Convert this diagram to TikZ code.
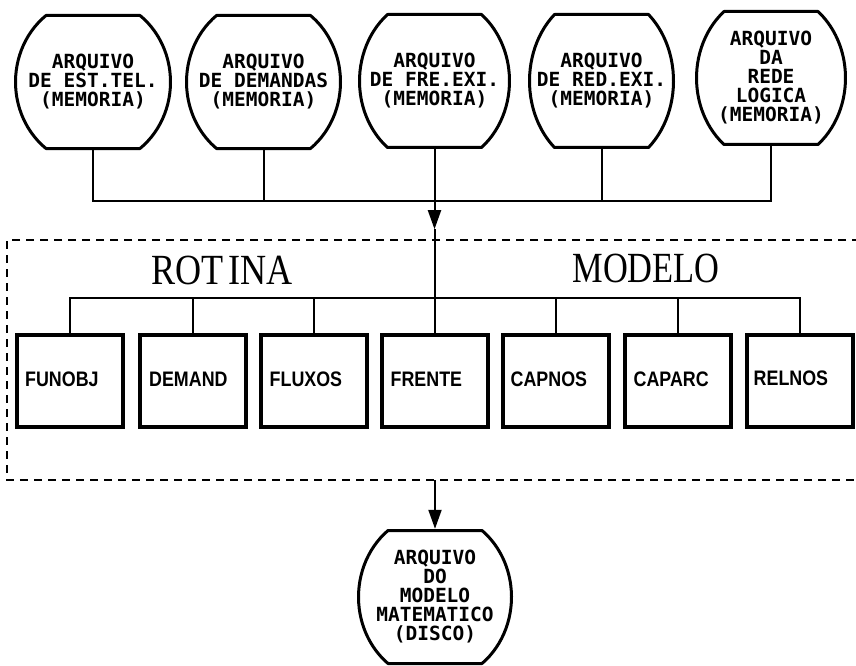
\documentclass[tikz,border=0pt]{standalone}
\usepackage{fontspec}
\setmainfont{Liberation Serif}
\newfontfamily\filefont{DejaVu Sans Mono}
\newfontfamily\routinefont{Liberation Sans}
\usetikzlibrary{arrows.meta}

\tikzset{
  filenode/.style={minimum width=150pt, minimum height=136pt, inner sep=0pt,
    align=center, font=\filefont\bfseries\fontsize{19.5}{19}\selectfont},
  outline/.style={line width=3pt, line join=round},
  wire/.style={line width=2pt},
  flow/.style={wire, -{Triangle[length=19pt,width=13pt]}},
  routine/.style={draw, line width=4pt, minimum width=106pt, minimum height=92pt,
    inner sep=0pt},
  routinelabel/.style={anchor=west, inner sep=0pt,
    font=\routinefont\bfseries\fontsize{21}{21}\selectfont},
  biglabel/.style={inner sep=0pt, font=\fontsize{43}{43}\selectfont},
  frame/.style={line width=2pt, dash pattern=on 8pt off 6pt},
}

\begin{document}
\begin{tikzpicture}[x=1pt, y=1pt]
\useasboundingbox (0,0) rectangle (856,-666);

% data files held in memory
\node[filenode] (f1) at (93,-82)    {ARQUIVO\\DE EST.TEL.\\(MEMORIA)};
\node[filenode] (f2) at (263.5,-82) {ARQUIVO\\DE DEMANDAS\\(MEMORIA)};
\node[filenode] (f3) at (434.5,-81) {ARQUIVO\\DE FRE.EXI.\\(MEMORIA)};
\node[filenode] (f4) at (601.5,-81) {ARQUIVO\\DE RED.EXI.\\(MEMORIA)};
\node[filenode] (f5) at (771,-78)   {ARQUIVO\\DA\\REDE\\LOGICA\\(MEMORIA)};
% output file on disk
\node[filenode] (disk) at (435,-597) {ARQUIVO\\DO\\MODELO\\MATEMATICO\\(DISCO)};

% barrel outlines: an ellipse cut flat at top and bottom
\foreach \n/\a in {f1/77.5, f2/77, f3/75, f4/72, f5/74.5, disk/76.5} {
  \pgfmathsetmacro\t{acos(47/\a)}
  \pgfmathsetmacro\b{66.5/sin(\t)}
  \draw[outline]
    ([shift={(180-\t:\a pt and \b pt)}]\n.center)
      arc[start angle=180-\t, end angle=180+\t, x radius=\a pt, y radius=\b pt]
    -- ([shift={(-\t:\a pt and \b pt)}]\n.center)
      arc[start angle=-\t, end angle=\t, x radius=\a pt, y radius=\b pt]
    -- cycle;
}

% routines of the model
\node[routine] (b1) at (70,-381)    {};
\node[routine] (b2) at (193,-381)   {};
\node[routine] (b3) at (313.5,-381) {};
\node[routine] (b4) at (434.5,-381) {};
\node[routine] (b5) at (555.5,-381) {};
\node[routine] (b6) at (677.5,-381) {};
\node[routine] (b7) at (799.5,-381) {};

\node[routinelabel] (l1) at ([xshift=10pt,yshift=2pt]b1.west) {\scalebox{0.85}[1]{FUNOBJ}};
\node[routinelabel] (l2) at ([xshift=11pt,yshift=2pt]b2.west) {\scalebox{0.85}[1]{DEMAND}};
\node[routinelabel] (l3) at ([xshift=11pt,yshift=2pt]b3.west) {\scalebox{0.85}[1]{FLUXOS}};
\node[routinelabel] (l4) at ([xshift=11pt,yshift=2pt]b4.west) {\scalebox{0.85}[1]{FRENTE}};
\node[routinelabel] (l5) at ([xshift=10pt,yshift=2pt]b5.west) {\scalebox{0.85}[1]{CAPNOS}};
\node[routinelabel] (l6) at ([xshift=11pt,yshift=2pt]b6.west) {\scalebox{0.85}[1]{CAPARC}};
\node[routinelabel] (l7) at ([xshift=9pt,yshift=3pt]b7.west)  {\scalebox{0.85}[1]{RELNOS}};

\node[biglabel] (rot) at (222,-270) {\scalebox{0.84}[1]{ROT\kern5pt INA}};
\node[biglabel] (mod) at (646,-268) {\scalebox{0.8}[1]{MODELO}};

% dashed frame, open on the right
\coordinate (frameNE) at (860,-240);
\coordinate (frameSW) at (7,-480);
\draw[frame] (frameNE) -| (frameSW) -- (frameSW -| frameNE);

% collecting line under the files
\path (f1.south) ++(0,-51) coordinate (busTop);
\draw[wire] (f1.south) |- (f5.south |- busTop) -- (f5.south);
\foreach \n in {f2,f4} \draw[wire] (\n.south) -- (\n.south |- busTop);

% feed into the routines
\path (f3.south) ++(0,-80) coordinate (tip);
\draw[flow] (f3.south) -- (tip);
\draw[wire] (tip) -- (b4.north);

% line joining the routines
\path (b1.north) ++(0,35) coordinate (busRow);
\draw[wire] (b1.north) |- (b7.north |- busRow) -- (b7.north);
\foreach \n in {b2,b3,b5,b6} \draw[wire] (\n.north) -- (\n.north |- busRow);

% result written to disk
\draw[flow] (disk.north |- frameSW) -- (disk.north);
\end{tikzpicture}
\end{document}
